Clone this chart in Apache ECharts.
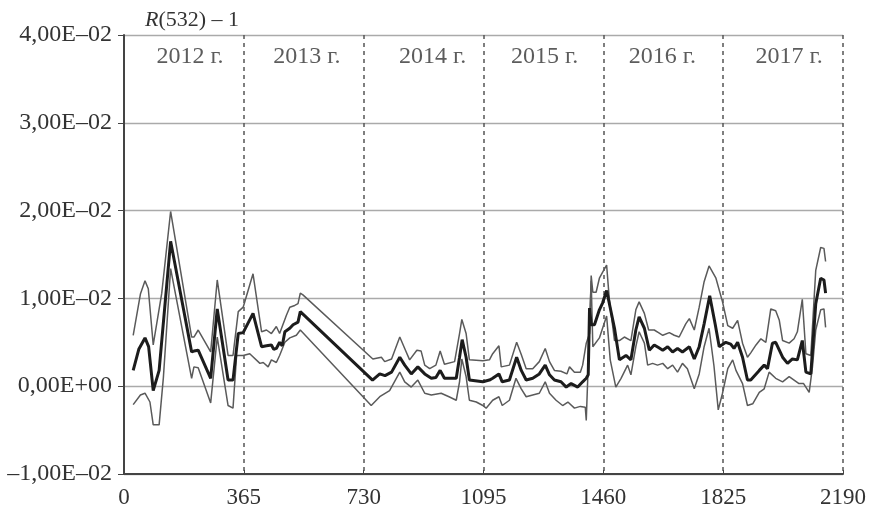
<!DOCTYPE html>
<html>
<head>
<meta charset="utf-8">
<script src="https://cdn.jsdelivr.net/npm/echarts@6/dist/echarts.min.js"></script>
<style>
  html, body { margin: 0; padding: 0; background: #fff; }
  #chart { width: 869px; height: 510px; }
</style>
</head>
<body>
<div id="chart"></div>
<script>
    // days since start, R(532) - 1
    var midPts = [
        [28, 0.0018], [45, 0.0042], [64, 0.0055], [75, 0.0045], [89, -0.0005], [107, 0.0018],
        [142, 0.0165], [206, 0.0039], [213, 0.0040], [226, 0.0041], [264, 0.0009], [284, 0.0088],
        [317, 0.0007], [332, 0.0007], [348, 0.0060], [363, 0.0061], [393, 0.0083], [419, 0.0045],
        [434, 0.0046], [449, 0.0047], [456, 0.0042], [464, 0.0043], [474, 0.0050], [482, 0.0046],
        [490, 0.0062], [505, 0.0066], [515, 0.0070], [530, 0.0073], [537, 0.0085], [757, 0.0007],
        [779, 0.0014], [795, 0.0012], [815, 0.0016], [840, 0.0033], [855, 0.0024], [875, 0.0014],
        [895, 0.0022], [916, 0.0014], [936, 0.0009], [950, 0.0010], [963, 0.0018], [976, 0.0009],
        [1012, 0.0009], [1022, 0.0033], [1030, 0.0053], [1042, 0.0033], [1052, 0.0007], [1093, 0.0005],
        [1113, 0.0007], [1123, 0.0009], [1142, 0.0014], [1152, 0.0005], [1174, 0.0007], [1196, 0.0033],
        [1210, 0.0018], [1225, 0.0007], [1245, 0.0009], [1265, 0.0014], [1283, 0.0024], [1296, 0.0013],
        [1311, 0.0007], [1331, 0.0005], [1347, -0.0001], [1362, 0.0003], [1382, -0.0001], [1397, 0.0005],
        [1408, 0.0009], [1414, 0.0013], [1418, 0.0089], [1423, 0.0070], [1433, 0.0070], [1448, 0.0087],
        [1458, 0.0095], [1470, 0.0109], [1494, 0.0066], [1509, 0.0030], [1529, 0.0035], [1544, 0.0030],
        [1559, 0.0064], [1569, 0.0079], [1585, 0.0066], [1600, 0.0041], [1615, 0.0047], [1628, 0.0044],
        [1641, 0.0041], [1656, 0.0045], [1671, 0.0039], [1686, 0.0043], [1701, 0.0039], [1722, 0.0045],
        [1737, 0.0031], [1752, 0.0045], [1767, 0.0071], [1784, 0.0103], [1801, 0.0070], [1813, 0.0045],
        [1833, 0.0050], [1848, 0.0048], [1858, 0.0043], [1869, 0.0050], [1884, 0.0033], [1899, 0.0007],
        [1909, 0.0007], [1935, 0.0018], [1950, 0.0024], [1960, 0.0020], [1975, 0.0049], [1985, 0.0050],
        [2006, 0.0033], [2021, 0.0026], [2036, 0.0031], [2051, 0.0030], [2066, 0.0052], [2077, 0.0016],
        [2092, 0.0014], [2107, 0.0094], [2122, 0.0123], [2132, 0.0121], [2137, 0.0106]
    ];
    var upperPts = [
        [28, 0.0058], [50, 0.0105], [64, 0.0120], [74, 0.0111], [89, 0.0047], [115, 0.0106],
        [142, 0.0199], [206, 0.0056], [213, 0.0056], [226, 0.0064], [264, 0.0039], [284, 0.0121],
        [317, 0.0035], [332, 0.0035], [348, 0.0085], [363, 0.0090], [393, 0.0128], [419, 0.0062],
        [434, 0.0064], [449, 0.0060], [464, 0.0068], [474, 0.0060], [495, 0.0081], [505, 0.0090],
        [520, 0.0092], [530, 0.0094], [537, 0.0106], [545, 0.0104], [758, 0.0031], [784, 0.0033],
        [794, 0.0028], [815, 0.0031], [840, 0.0056], [855, 0.0043], [870, 0.0030], [892, 0.0041],
        [905, 0.0040], [916, 0.0024], [931, 0.0020], [950, 0.0024], [963, 0.0040], [976, 0.0025],
        [1007, 0.0028], [1022, 0.0060], [1029, 0.0076], [1042, 0.0060], [1052, 0.0030], [1093, 0.0029],
        [1113, 0.0030], [1123, 0.0037], [1142, 0.0046], [1149, 0.0022], [1174, 0.0024], [1196, 0.0050],
        [1210, 0.0036], [1225, 0.0020], [1245, 0.0020], [1265, 0.0028], [1283, 0.0043], [1296, 0.0028],
        [1311, 0.0018], [1331, 0.0017], [1349, 0.0014], [1357, 0.0022], [1372, 0.0016], [1390, 0.0016],
        [1397, 0.0024], [1408, 0.0049], [1418, 0.0060], [1423, 0.0126], [1428, 0.0107], [1438, 0.0107],
        [1448, 0.0123], [1458, 0.0130], [1470, 0.0138], [1478, 0.0100], [1494, 0.0052], [1509, 0.0052],
        [1524, 0.0056], [1544, 0.0052], [1559, 0.0087], [1569, 0.0096], [1585, 0.0083], [1598, 0.0064],
        [1615, 0.0064], [1628, 0.0061], [1641, 0.0058], [1661, 0.0061], [1676, 0.0058], [1691, 0.0056],
        [1711, 0.0071], [1722, 0.0077], [1737, 0.0064], [1752, 0.0090], [1767, 0.0119], [1782, 0.0137],
        [1803, 0.0123], [1823, 0.0096], [1839, 0.0069], [1854, 0.0066], [1869, 0.0075], [1884, 0.0049],
        [1899, 0.0033], [1909, 0.0038], [1925, 0.0047], [1940, 0.0054], [1955, 0.0050], [1970, 0.0088],
        [1985, 0.0086], [1996, 0.0075], [2006, 0.0052], [2026, 0.0049], [2041, 0.0054], [2051, 0.0062],
        [2066, 0.0099], [2077, 0.0037], [2092, 0.0035], [2107, 0.0132], [2122, 0.0158], [2132, 0.0157],
        [2137, 0.0142]
    ];
    var lowerPts = [
        [28, -0.0021], [50, -0.0010], [64, -0.0008], [79, -0.0018], [89, -0.0044], [107, -0.0044],
        [120, 0.0010], [142, 0.0134], [206, 0.0009], [213, 0.0022], [226, 0.0021], [264, -0.0019],
        [284, 0.0056], [317, -0.0022], [332, -0.0025], [343, 0.0035], [363, 0.0035], [383, 0.0037],
        [414, 0.0026], [424, 0.0027], [439, 0.0022], [449, 0.0030], [464, 0.0027], [474, 0.0035],
        [490, 0.0050], [505, 0.0055], [525, 0.0058], [537, 0.0064], [753, -0.0022], [779, -0.0012],
        [809, -0.0005], [840, 0.0016], [855, 0.0005], [875, -0.0001], [895, 0.0007], [916, -0.0008],
        [936, -0.0010], [966, -0.0008], [990, -0.0012], [1012, -0.0016], [1022, 0.0005], [1029, 0.0031],
        [1042, 0.0011], [1052, -0.0016], [1073, -0.0018], [1093, -0.0022], [1103, -0.0025], [1123, -0.0016],
        [1142, -0.0012], [1152, -0.0022], [1174, -0.0016], [1194, 0.0009], [1210, -0.0003], [1225, -0.0012],
        [1245, -0.0010], [1265, -0.0008], [1283, 0.0005], [1296, -0.0008], [1316, -0.0016], [1336, -0.0022],
        [1352, -0.0018], [1372, -0.0025], [1390, -0.0023], [1405, -0.0024], [1408, -0.0039], [1423, 0.0120],
        [1428, 0.0045], [1448, 0.0055], [1470, 0.0080], [1481, 0.0030], [1498, -0.0001], [1514, 0.0009],
        [1534, 0.0024], [1544, 0.0013], [1559, 0.0045], [1569, 0.0062], [1585, 0.0049], [1595, 0.0024],
        [1610, 0.0026], [1625, 0.0024], [1641, 0.0026], [1656, 0.0020], [1671, 0.0024], [1686, 0.0016],
        [1701, 0.0026], [1716, 0.0020], [1737, -0.0003], [1752, 0.0014], [1767, 0.0045], [1782, 0.0066],
        [1797, 0.0023], [1810, -0.0027], [1823, -0.0008], [1839, 0.0020], [1854, 0.0030], [1864, 0.0018],
        [1884, 0.0003], [1899, -0.0022], [1915, -0.0020], [1935, -0.0007], [1950, -0.0003], [1965, 0.0016],
        [1985, 0.0009], [2006, 0.0005], [2026, 0.0011], [2041, 0.0007], [2056, 0.0003], [2070, 0.0003],
        [2087, -0.0007], [2097, 0.0022], [2107, 0.0064], [2122, 0.0087], [2132, 0.0088], [2137, 0.0067]
    ];

    var yearNames = ['2012 г.', '2013 г.', '2014 г.', '2015 г.', '2016 г.', '2017 г.'];
    var yearCenters = [201, 557, 940, 1281, 1640, 2026];
    var yearLabelY = 0.0375;

    var serif = '"Liberation Serif", "DejaVu Serif", serif';
    var textColor = '#333';

    // 4,00E-02 style labels
    function fmtE(v) {
        if (Math.abs(v) < 1e-12) return '0,00E+00';
        var sign = v < 0 ? '–' : '';
        var a = Math.abs(v);
        var e = Math.floor(Math.log10(a) + 1e-9);
        var m = (a / Math.pow(10, e)).toFixed(2);
        if (m === '10.00') { m = '1.00'; e += 1; }
        var es = (e < 0 ? '–' : '+') + (Math.abs(e) < 10 ? '0' : '') + Math.abs(e);
        return sign + m.replace('.', ',') + 'E' + es;
    }

    var chart = echarts.init(document.getElementById('chart'));

    var option = {
        backgroundColor: '#fff',
        animation: false,
        title: {
            text: '{i|R}(532) – 1',
            left: 140,
            top: 4,
            textStyle: {
                fontFamily: serif,
                fontSize: 22,
                fontWeight: 'normal',
                color: textColor,
                rich: {
                    i: { fontFamily: serif, fontSize: 22, fontStyle: 'italic', color: textColor }
                }
            }
        },
        grid: {
            left: 124,
            top: 35,
            width: 720,
            height: 439
        },
        xAxis: {
            type: 'value',
            min: 0,
            max: 2190,
            interval: 365,
            axisLine: { show: true, onZero: false, lineStyle: { color: '#444', width: 2 } },
            axisTick: { show: true, inside: true, length: 4, lineStyle: { color: '#444' } },
            axisLabel: {
                margin: 12,
                fontFamily: serif,
                fontSize: 23,
                color: textColor,
                formatter: function (v) { return String(v); }
            },
            splitLine: {
                show: true,
                lineStyle: { color: '#555', width: 1.5, type: [4, 4] }
            }
        },
        yAxis: {
            type: 'value',
            min: -0.01,
            max: 0.04,
            interval: 0.01,
            axisLine: { show: true, onZero: false, lineStyle: { color: '#444', width: 2 } },
            axisTick: { show: true, length: 6, lineStyle: { color: '#444' } },
            axisLabel: {
                margin: 12,
                fontFamily: serif,
                fontSize: 24,
                color: textColor,
                formatter: fmtE
            },
            splitLine: {
                show: true,
                lineStyle: { color: '#aaa', width: 1.3 }
            }
        },
        series: [
            {
                name: 'upper',
                type: 'line',
                data: upperPts,
                showSymbol: false,
                lineStyle: { color: '#5a5a5a', width: 1.5 },
                z: 2
            },
            {
                name: 'lower',
                type: 'line',
                data: lowerPts,
                showSymbol: false,
                lineStyle: { color: '#5a5a5a', width: 1.5 },
                z: 2
            },
            {
                name: 'mid',
                type: 'line',
                data: midPts,
                showSymbol: false,
                lineStyle: { color: '#1c1c1c', width: 3 },
                z: 3
            },
            {
                name: 'years',
                type: 'scatter',
                silent: true,
                symbolSize: 0,
                data: yearCenters.map(function (d) { return [d, yearLabelY]; }),
                label: {
                    show: true,
                    position: 'inside',
                    fontFamily: serif,
                    fontSize: 24,
                    color: textColor,
                    formatter: function (p) { return yearNames[p.dataIndex]; }
                }
            }
        ]
    };

    chart.setOption(option);
</script>
</body>
</html>
